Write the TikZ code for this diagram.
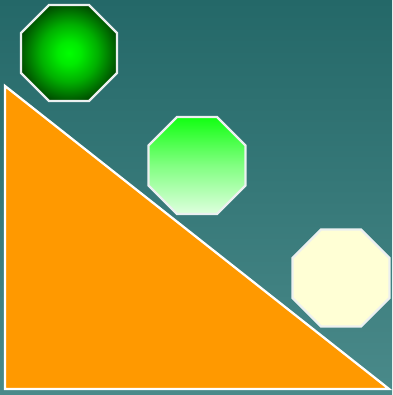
\documentclass[tikz,border=0pt]{standalone}
\definecolor{glowA}{RGB}{0,255,0}
\definecolor{glowB}{RGB}{0,235,0}
\definecolor{glowM}{RGB}{0,175,0}
\definecolor{glowC}{RGB}{0,85,0}
\definecolor{glowD}{RGB}{0,50,0}
\pgfdeclareradialshading{octglow}{\pgfpoint{0bp}{0bp}}{%
  color(0bp)=(glowA);
  color(6bp)=(glowB);
  color(15bp)=(glowM);
  color(25bp)=(glowC);
  color(29bp)=(glowD);
  color(50bp)=(glowD)}
\definecolor{bgtop}{RGB}{36,104,104}
\definecolor{bgbot}{RGB}{74,138,138}
\definecolor{orangefill}{RGB}{255,153,0}
\definecolor{edgewhite}{RGB}{236,240,240}
\definecolor{paleyellow}{RGB}{255,255,213}
\definecolor{gtop}{RGB}{18,255,18}
\definecolor{gmid}{RGB}{130,255,130}
\definecolor{gbot}{RGB}{222,255,222}
\newcommand\myoct[3]{({#1+0.41421*#3},{#2-#3}) -- ({#1+#3},{#2-0.41421*#3}) -- ({#1+#3},{#2+0.41421*#3}) -- ({#1+0.41421*#3},{#2+#3}) -- ({#1-0.41421*#3},{#2+#3}) -- ({#1-#3},{#2+0.41421*#3}) -- ({#1-#3},{#2-0.41421*#3}) -- ({#1-0.41421*#3},{#2-#3}) -- cycle}
\tikzset{
  outline/.style={draw=edgewhite, line width=2.3pt, line join=miter}
}
\begin{document}
\begin{tikzpicture}[x=1pt,y=-1pt]
\shade[top color=bgtop, bottom color=bgbot] (0,0) rectangle (392,395);
\useasboundingbox (0,0) rectangle (392,395);
% triangle
\filldraw[fill=orangefill, outline, draw=white] (5,86) -- (5,389) -- (389,389) -- cycle;
% octagon 1 (radial glow)
\shade[shading=octglow] \myoct{69}{53}{48};
\draw[outline] \myoct{69}{53}{48};
% octagon 2 (vertical gradient)
\shade[top color=gtop, bottom color=gbot, middle color=gmid] \myoct{197}{165.5}{48.5};
\draw[outline] \myoct{197}{165.5}{48.5};
% octagon 3
\filldraw[fill=paleyellow, outline] \myoct{341}{278}{48.5};
\end{tikzpicture}
\end{document}
